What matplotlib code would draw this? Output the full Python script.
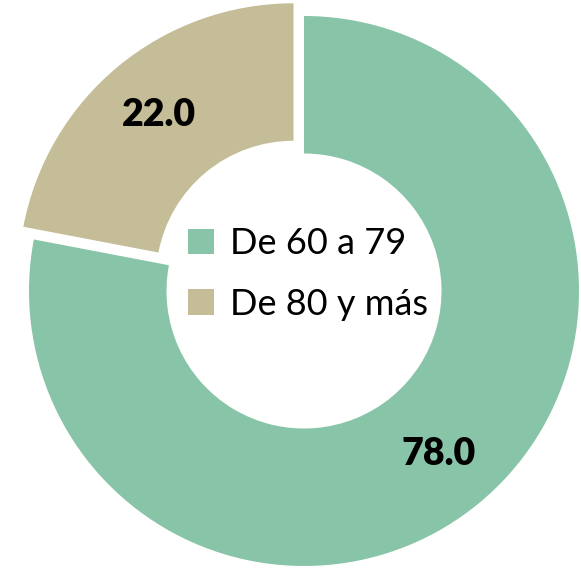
import matplotlib
matplotlib.use("Agg")
from matplotlib import pyplot as plt

labels = ["De 60 a 79", "De 80 y más"]
values = [78.0, 22.0]
colors = ["#88C4A8", "#C4BD97"]

fig = plt.figure(figsize=(5.81, 5.69), dpi=100)
ax = fig.add_axes([0, 0, 1, 1])

R = 275.0
wedges, texts, autotexts = ax.pie(
    values, colors=colors, startangle=90, counterclock=False,
    explode=[0, 0.06], radius=1,
    wedgeprops=dict(width=0.5, edgecolor="none"),
    autopct="%.1f", pctdistance=0.77,
    textprops=dict(fontsize=27, fontweight="heavy", family="Lato", color="black"),
)

ax.set_xlim(-304 / R, 277 / R)
ax.set_ylim(-278 / R, 291 / R)
ax.set_aspect("equal")
ax.axis("off")

fig.legend(wedges, labels, loc="center", bbox_to_anchor=(308 / 581, 1 - 274 / 569),
           frameon=False, prop=dict(family="Lato", size=26),
           handlelength=0.7, handleheight=0.7, handletextpad=0.45, labelspacing=0.75)

fig.savefig("out.png", dpi=100)
